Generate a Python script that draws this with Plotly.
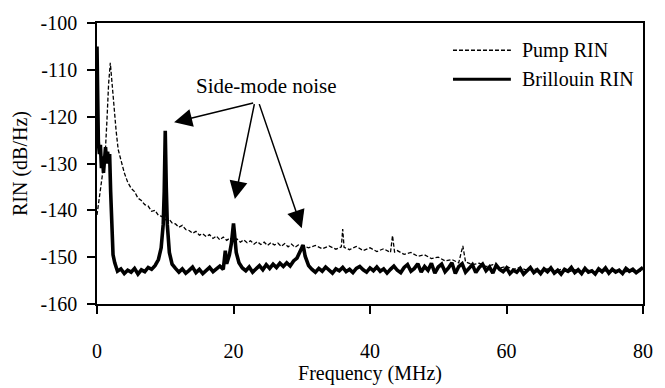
import plotly.graph_objects as go

# ---------------- data ----------------
brillouin_freq = [
    0.0, 0.05, 0.1, 0.2, 0.35, 0.5, 0.65, 0.8, 0.95, 1.1, 1.25, 1.4, 1.55, 1.7, 1.85,
    2.0, 2.15, 2.35, 2.6, 3.0, 3.5, 4.0, 4.5, 5.0, 5.5, 6.0, 6.5, 7.0, 7.5, 8.0, 8.5,
    9.0, 9.4, 9.7, 9.85, 10.0, 10.15, 10.3, 10.6, 11.0, 11.5, 12.0, 12.5, 13.0, 13.5,
    14.0, 14.5, 15.0, 15.5, 16.0, 16.5, 17.0, 17.5, 18.0, 18.5, 18.8, 19.0, 19.4, 19.7,
    19.9, 20.0, 20.15, 20.4, 20.8, 21.3, 21.8, 22.3, 22.8, 23.3, 23.8, 24.3, 24.8, 25.3,
    25.8, 26.3, 26.8, 27.3, 27.8, 28.3, 28.8, 29.3, 29.7, 30.0, 30.2, 30.5, 31.0, 31.5,
    32.0, 32.5, 33.0, 33.5, 34.0, 34.5, 35.0, 35.5, 36.0, 36.5, 37.0, 37.5, 38.0, 38.5,
    39.0, 39.5, 40.0, 40.5, 41.0, 41.5, 42.0, 42.5, 43.0, 43.5, 44.0, 44.5, 45.0, 45.5,
    46.0, 46.5, 47.0, 47.5, 48.0, 48.5, 49.0, 49.5, 50.0, 50.5, 51.0, 51.5, 52.0, 52.5,
    53.0, 53.5, 54.0, 54.5, 55.0, 55.5, 56.0, 56.5, 57.0, 57.5, 58.0, 58.5, 59.0, 59.5,
    60.0, 60.5, 61.0, 61.5, 62.0, 62.5, 63.0, 63.5, 64.0, 64.5, 65.0, 65.5, 66.0, 66.5,
    67.0, 67.5, 68.0, 68.5, 69.0, 69.5, 70.0, 70.5, 71.0, 71.5, 72.0, 72.5, 73.0, 73.5,
    74.0, 74.5, 75.0, 75.5, 76.0, 76.5, 77.0, 77.5, 78.0, 78.5, 79.0, 79.5, 80.0,
]
brillouin_rin = [
    -105, -113, -120, -125.5, -128, -126, -131, -128.5, -132, -128, -126.5, -130, -127.5, -129.5, -128,
    -136, -145, -149.5, -151.2, -153.0, -152.5, -153.5, -152.8, -153.2, -152.4, -153.6, -152.7, -153.1, -152.2, -152.6, -151.8,
    -150.5, -148, -143, -136, -123, -135, -143, -149, -151.5, -152.4, -153.2, -152.5, -153.4, -152.8,
    -152.1, -153.3, -152.6, -153.5, -152.9, -152.2, -153.1, -152.4, -151.9, -152.6, -148.6, -151.4, -149.5, -147,
    -144.5, -142.8, -145, -149, -151.2, -152.3, -152.9, -152.1, -153.2, -152.5, -151.8, -152.7, -151.6, -152.4,
    -151.5, -152.2, -151.3, -152.0, -151.2, -151.9, -150.8, -150.2, -148.8, -147.8, -147.4, -149.8, -151.8, -152.6,
    -153.2, -152.4, -153.0, -152.1, -152.8, -153.4, -152.5, -152.9, -152.2, -153.1, -152.6, -153.3, -152.4, -152.0,
    -152.7, -153.2, -152.3, -152.9, -152.1, -153.0, -152.5, -153.4, -152.6, -151.9, -152.8, -153.3, -152.2, -151.6,
    -153.0, -152.4, -151.4, -153.2, -152.0, -152.8, -151.3, -153.4, -152.1, -151.5, -153.1, -152.3, -151.2, -153.5,
    -152.0, -151.4, -153.2, -152.5, -151.6, -153.3, -152.2, -151.5, -152.9, -152.1, -153.4, -151.7, -152.6, -153.1,
    -152.3, -153.5, -152.8, -153.2, -152.4, -153.6, -152.9, -152.2, -153.3, -152.7, -153.5, -152.5, -153.1, -152.3,
    -153.4, -152.8, -153.6, -152.6, -153.0, -152.2, -153.3, -152.7, -153.5, -152.4, -153.2, -152.9, -153.6, -152.5,
    -153.1, -152.3, -153.4, -152.6, -153.2, -152.8, -153.5, -152.4, -153.0, -152.6, -153.3, -152.7, -152.2,
]

pump_freq = [
    0.0, 0.3, 0.6, 0.9, 1.2, 1.45, 1.7, 1.95, 2.2, 2.5, 2.8, 3.1, 3.5, 4.0, 4.5, 5.0, 5.5,
    6.0, 6.5, 7.0, 7.5, 8.0, 8.5, 9.0, 9.5, 10.0, 10.5, 11.0, 11.5, 12.0, 12.5, 13.0, 13.5,
    14.0, 14.5, 15.0, 15.5, 16.0, 16.5, 17.0, 17.5, 18.0, 18.5, 19.0, 19.5, 20.0, 20.5,
    21.0, 21.5, 22.0, 22.5, 23.0, 23.5, 24.0, 24.5, 25.0, 25.5, 26.0, 26.5, 27.0, 27.5,
    28.0, 28.5, 29.0, 29.5, 30.0, 31, 32, 33, 34, 35, 35.8, 36.0, 36.2, 37, 38, 39, 40,
    41, 42, 43, 43.3, 43.6, 44, 45, 46, 47, 48, 49, 50, 51, 52, 53, 53.6, 54, 55, 56, 57,
    58, 59, 60, 61, 62, 63, 64, 65, 66, 67, 68, 69, 70, 71, 72, 73, 74, 75, 76, 77, 78,
    79, 80,
]
pump_rin = [
    -141, -138, -135, -131, -128, -121, -113, -108.5, -113, -118, -123, -127, -129.5, -132, -134, -135.3, -136,
    -137.4, -137.9, -138.8, -139.1, -140.2, -140.0, -141.1, -141.3, -142.0, -141.8, -142.7, -142.9, -143.6, -143.2, -144.1, -144.3,
    -144.9, -144.5, -145.3, -145.0, -145.6, -145.2, -146.0, -145.5, -146.3, -145.7, -146.4, -145.9, -146.6, -146.1,
    -146.8, -146.3, -146.9, -146.5, -147.2, -146.7, -147.3, -146.8, -147.5, -146.9, -147.4, -147.0, -147.7, -147.1,
    -147.8, -147.2, -147.9, -147.4, -147.6, -148.0, -147.5, -148.2, -147.6, -148.3, -147.8, -144.0, -147.9, -148.4, -147.7, -148.6, -148.0,
    -148.8, -148.2, -149.0, -145.4, -148.9, -148.6, -149.4, -149.0, -149.8, -149.5, -150.3, -150.0, -150.8, -150.5, -151.2, -147.6, -151.0, -151.6, -151.3, -152.0,
    -151.6, -152.3, -152.0, -152.6, -152.2, -152.8, -152.4, -153.0, -152.5, -153.1, -152.6, -153.2, -152.7, -153.2, -152.8, -153.3, -152.7, -153.2, -152.8, -153.3, -152.9,
    -153.2, -152.9,
]

y_tick_values = [-160, -150, -140, -130, -120, -110, -100]
y_tick_labels = ["-160", "-150", "-140", "-130", "-120", "-110", "-100"]
x_tick_values = [0, 20, 40, 60, 80]
x_tick_labels = ["0", "20", "40", "60", "80"]

# ---------------- figure ----------------
FONT = "'Liberation Serif', 'Times New Roman', Times, 'DejaVu Serif', serif"

fig = go.Figure()
fig.add_trace(go.Scatter(
    x=pump_freq, y=pump_rin, mode="lines", name="Pump RIN",
    line=dict(color="black", width=1.3, dash="4px,2px"), showlegend=False,
))
fig.add_trace(go.Scatter(
    x=brillouin_freq, y=brillouin_rin, mode="lines", name="Brillouin RIN",
    line=dict(color="black", width=3.6), showlegend=False,
))

# legend drawn as line samples + labels (top right, inside the frame)
legend_items = [("Pump RIN", "4px,2px", 1.3, 0.903), ("Brillouin RIN", "solid", 3, 0.80)]
for label, dash, w, yy in legend_items:
    fig.add_shape(type="line", xref="paper", yref="paper", x0=0.652, x1=0.758, y0=yy, y1=yy,
                  line=dict(color="black", width=w, dash=dash))
    fig.add_annotation(xref="paper", yref="paper", x=0.774, y=yy, text=label, showarrow=False,
                       xanchor="left", yanchor="middle", font=dict(family=FONT, size=20, color="black"))

# side-mode annotation
fig.add_annotation(x=24.8, y=-113.4, text="Side-mode noise", showarrow=False,
                   font=dict(family=FONT, size=21, color="black"))
arrow_tips = [(11.3, -121.2), (20.2, -137.6), (30.0, -143.8)]
arrow_tails = [(23.1, -117.0), (23.1, -117.0), (23.7, -117.0)]
for (tx, ty), (sx, sy) in zip(arrow_tips, arrow_tails):
    fig.add_annotation(x=tx, y=ty, ax=sx, ay=sy, xref="x", yref="y", axref="x", ayref="y",
                       text="", showarrow=True, arrowhead=2, arrowsize=2.4, arrowwidth=1.5,
                       arrowcolor="black", standoff=0, startstandoff=0)

fig.update_layout(
    width=665, height=388,
    margin=dict(l=97, r=14, t=15, b=73),
    paper_bgcolor="white", plot_bgcolor="white",
    font=dict(family=FONT, size=20, color="black"),
    showlegend=False,
)
fig.update_xaxes(
    range=[0, 80], tickvals=x_tick_values, ticktext=x_tick_labels,
    ticks="outside", ticklen=8, tickwidth=1.5, tickcolor="black",
    showline=True, linecolor="black", linewidth=1.5, mirror=True,
    showgrid=False, zeroline=False, ticklabelstandoff=20,
    title=dict(text="Frequency (MHz)", font=dict(family=FONT, size=20), standoff=0),
    tickfont=dict(family=FONT, size=20),
)
fig.update_yaxes(
    range=[-160, -100], tickvals=y_tick_values, ticktext=y_tick_labels,
    ticks="outside", ticklen=8, tickwidth=1.5, tickcolor="black",
    showline=True, linecolor="black", linewidth=1.5, mirror=True,
    showgrid=False, zeroline=False, ticklabelstandoff=6,
    title=dict(text="RIN (dB/Hz)", font=dict(family=FONT, size=20), standoff=8),
    tickfont=dict(family=FONT, size=20),
)

fig.write_html("out.html")
